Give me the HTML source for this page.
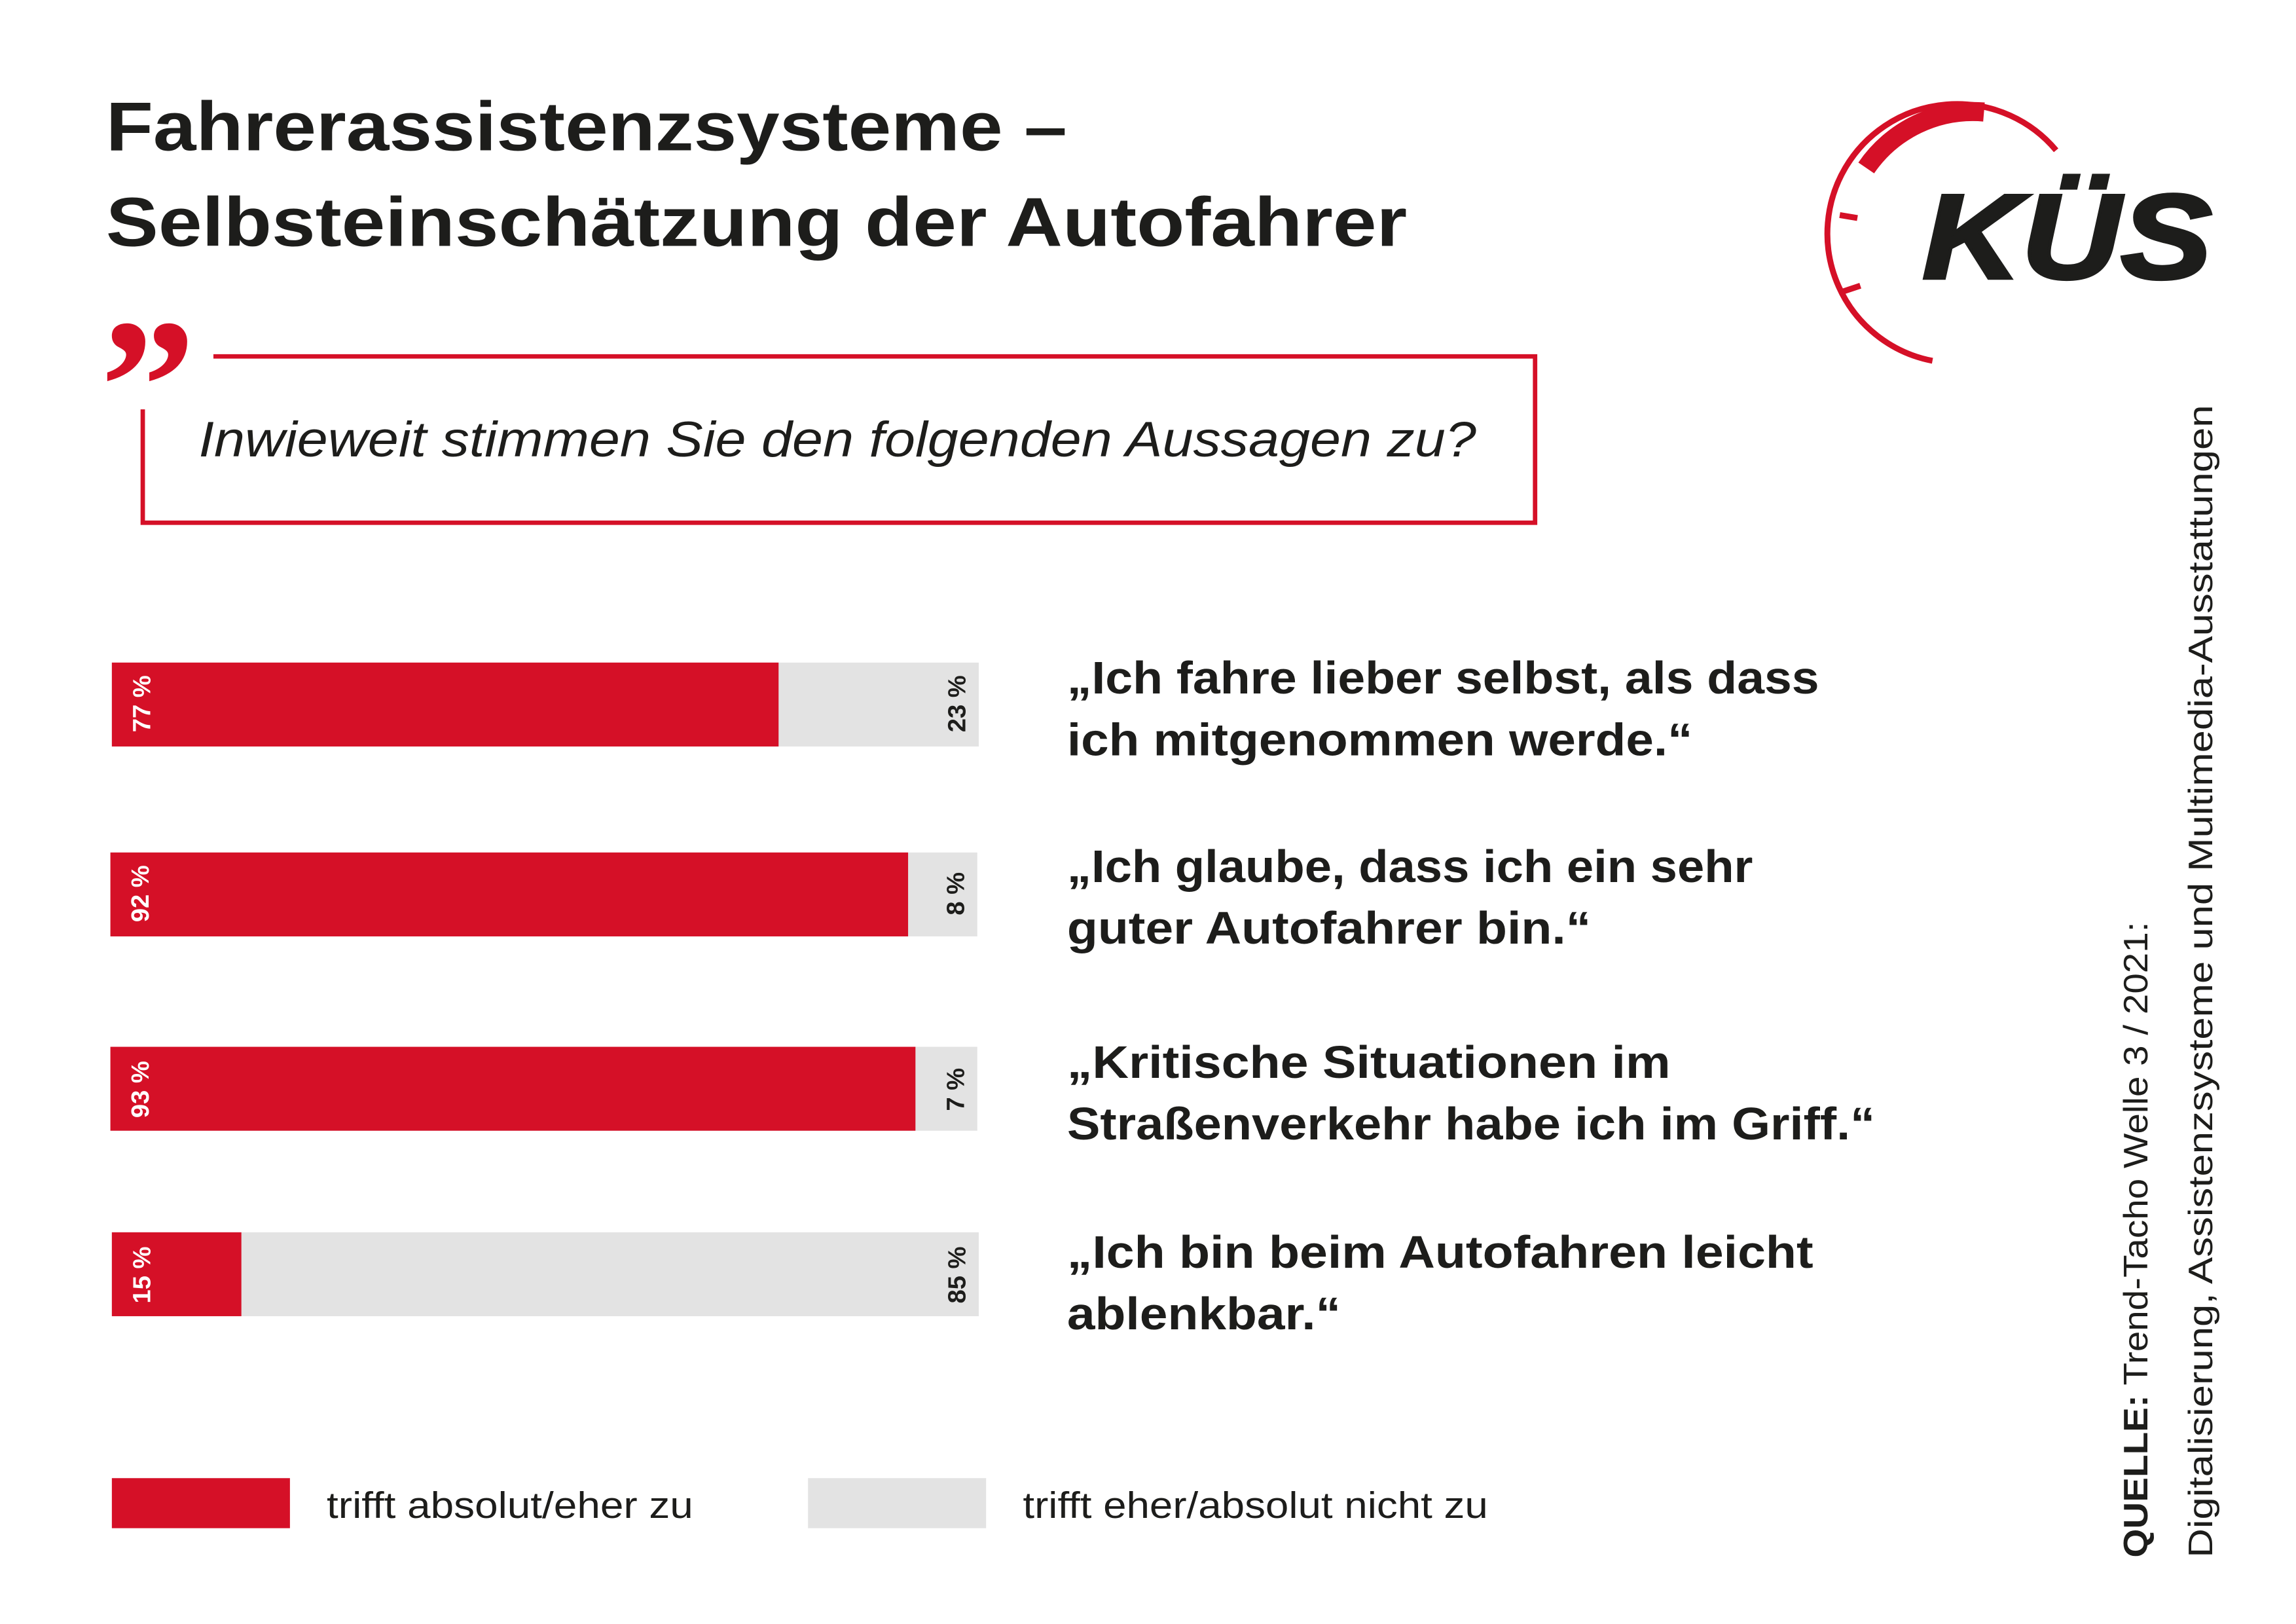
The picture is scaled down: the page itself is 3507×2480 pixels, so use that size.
<!DOCTYPE html>
<html><head><meta charset="utf-8"><style>html,body{margin:0;padding:0;background:#fff}svg{display:block}</style></head>
<body>
<svg width="3507" height="2480" viewBox="0 0 1560 1103" xmlns="http://www.w3.org/2000/svg" font-family="Liberation Sans, sans-serif">
<rect width="1560" height="1103" fill="#fff"/>
<g fill="#1d1d1b" font-weight="bold" font-size="47">
<text x="72" y="102" textLength="653" lengthAdjust="spacingAndGlyphs">Fahrerassistenzsysteme –</text>
<text x="72" y="167" textLength="884" lengthAdjust="spacingAndGlyphs">Selbsteinschätzung der Autofahrer</text>
</g>
<!-- logo -->
<g fill="none" stroke="#d51027">
<path d="M1397,102 A88,88 0 1 0 1313,245" stroke-width="4"/>
<path d="M1268,114 A88,88 0 0 1 1348,76" stroke-width="13"/>
</g>
<g stroke="#d51027" stroke-width="4"><line x1="1250" y1="146" x2="1262" y2="148"/><line x1="1252" y1="198" x2="1264" y2="194"/></g>
<text x="1306" y="189" font-size="82" font-weight="bold" font-style="italic" fill="#1d1d1b" stroke="#1d1d1b" stroke-width="2" textLength="197" lengthAdjust="spacingAndGlyphs">KÜS</text>
<!-- quote -->
<text x="68" y="306" font-size="130" font-weight="bold" fill="#d51027" font-family="Liberation Serif, serif">”</text>
<path d="M145,242 H1043 V355 H97 V278" fill="none" stroke="#d51027" stroke-width="3"/>
<text x="135" y="310" font-size="34" font-style="italic" fill="#1d1d1b" textLength="868" lengthAdjust="spacingAndGlyphs">Inwieweit stimmen Sie den folgenden Aussagen zu?</text>
<!-- bars -->
<g>
<rect x="76" y="450" width="589" height="57" fill="#e3e3e3"/><rect x="76" y="450" width="453" height="57" fill="#d51027"/>
<rect x="75" y="579" width="589" height="57" fill="#e3e3e3"/><rect x="75" y="579" width="542" height="57" fill="#d51027"/>
<rect x="75" y="711" width="589" height="57" fill="#e3e3e3"/><rect x="75" y="711" width="547" height="57" fill="#d51027"/>
<rect x="76" y="837" width="589" height="57" fill="#e3e3e3"/><rect x="76" y="837" width="88" height="57" fill="#d51027"/>
</g>
<g font-size="17" font-weight="bold" text-anchor="middle">
<text transform="translate(102,478) rotate(-90)" fill="#fff">77 %</text>
<text transform="translate(656,478) rotate(-90)" fill="#1d1d1b">23 %</text>
<text transform="translate(101,607) rotate(-90)" fill="#fff">92 %</text>
<text transform="translate(655,607) rotate(-90)" fill="#1d1d1b">8 %</text>
<text transform="translate(101,740) rotate(-90)" fill="#fff">93 %</text>
<text transform="translate(655,740) rotate(-90)" fill="#1d1d1b">7 %</text>
<text transform="translate(102,866) rotate(-90)" fill="#fff">15 %</text>
<text transform="translate(656,866) rotate(-90)" fill="#1d1d1b">85 %</text>
</g>
<g font-size="31" font-weight="bold" fill="#1d1d1b">
<text x="725" y="471" textLength="511" lengthAdjust="spacingAndGlyphs">„Ich fahre lieber selbst, als dass</text>
<text x="725" y="513" textLength="425" lengthAdjust="spacingAndGlyphs">ich mitgenommen werde.“</text>
<text x="725" y="599" textLength="466" lengthAdjust="spacingAndGlyphs">„Ich glaube, dass ich ein sehr</text>
<text x="725" y="641" textLength="356" lengthAdjust="spacingAndGlyphs">guter Autofahrer bin.“</text>
<text x="725" y="732" textLength="410" lengthAdjust="spacingAndGlyphs">„Kritische Situationen im</text>
<text x="725" y="774" textLength="549" lengthAdjust="spacingAndGlyphs">Straßenverkehr habe ich im Griff.“</text>
<text x="725" y="861" textLength="507" lengthAdjust="spacingAndGlyphs">„Ich bin beim Autofahren leicht</text>
<text x="725" y="903" textLength="186" lengthAdjust="spacingAndGlyphs">ablenkbar.“</text>
</g>
<!-- legend -->
<rect x="76" y="1004" width="121" height="34" fill="#d51027"/>
<rect x="549" y="1004" width="121" height="34" fill="#e3e3e3"/>
<g font-size="25" fill="#1d1d1b">
<text x="222" y="1031" textLength="249" lengthAdjust="spacingAndGlyphs">trifft absolut/eher zu</text>
<text x="695" y="1031" textLength="316" lengthAdjust="spacingAndGlyphs">trifft eher/absolut nicht zu</text>
</g>
<!-- source -->
<g fill="#1d1d1b" font-size="23">
<text transform="translate(1459,1058) rotate(-90)" textLength="432" lengthAdjust="spacingAndGlyphs"><tspan font-weight="bold">QUELLE:</tspan> Trend-Tacho Welle 3 / 2021:</text>
<text transform="translate(1503,1058) rotate(-90)" textLength="783" lengthAdjust="spacingAndGlyphs">Digitalisierung, Assistenzsysteme und Multimedia-Ausstattungen</text>
</g>
</svg>
</body></html>
